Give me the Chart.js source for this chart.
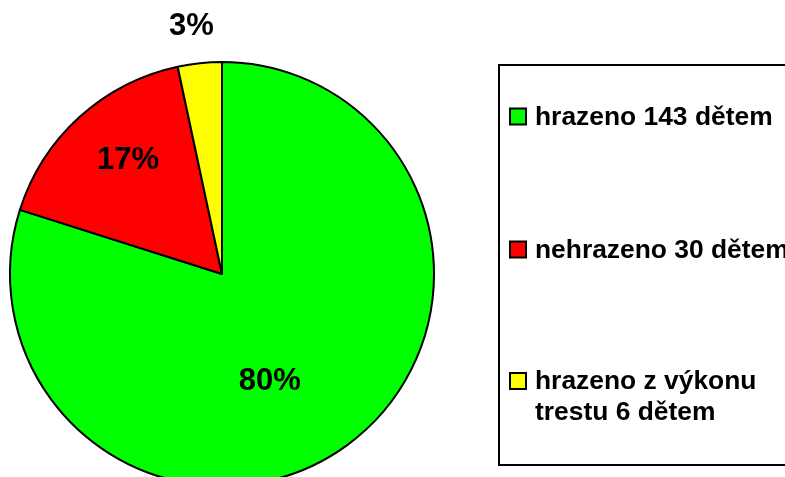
<!DOCTYPE html>
<html>
<head>
<meta charset="utf-8">
<script src="https://cdn.jsdelivr.net/npm/chart.js@4"></script>
<style>
  html, body { margin: 0; padding: 0; background: #fff; overflow: hidden; }
  #wrap { width: 785px; height: 500px; }
</style>
</head>
<body>
<div id="wrap"><canvas id="pieChart" width="785" height="500"></canvas></div>
<script>
// data
const labels = ["hrazeno 143 dětem", "nehrazeno 30 dětem", ["hrazeno z výkonu", "trestu 6 dětem"]];
const counts = [143, 30, 6];
const colors = ["#00FF00", "#FF0000", "#FFFF00"];

// where each percentage sits: radius as a part of the pie radius, and a small turn in degrees
const labelSpots = [
    { r: 0.551, turn: 12 },
    { r: 0.70, turn: 3 },
    { r: 1.179, turn: -1 }
];

const percentLabels = {
    id: 'percentLabels',
    afterDatasetsDraw(chart) {
        const ctx = chart.ctx;
        const meta = chart.getDatasetMeta(0);
        const data = chart.data.datasets[0].data;
        const total = data.reduce((a, b) => a + b, 0);
        ctx.save();
        ctx.font = 'bold 31px "Liberation Sans", Arial, sans-serif';
        ctx.fillStyle = '#000';
        ctx.textAlign = 'center';
        ctx.textBaseline = 'middle';
        meta.data.forEach((arc, i) => {
            const p = arc.getProps(['x', 'y', 'startAngle', 'endAngle', 'outerRadius'], true);
            const spot = labelSpots[i];
            const a = (p.startAngle + p.endAngle) / 2 + spot.turn * Math.PI / 180;
            const d = p.outerRadius * spot.r;
            const text = Math.round(data[i] / total * 100) + '%';
            ctx.fillText(text, p.x + Math.cos(a) * d, p.y + Math.sin(a) * d + 1);
        });
        ctx.restore();
    }
};

const boxLegend = {
    id: 'boxLegend',
    afterDraw(chart) {
        const ctx = chart.ctx;
        const ds = chart.data.datasets[0];
        const rows = [116.5, 249.5, 381];
        ctx.save();
        ctx.lineWidth = 2;
        ctx.strokeStyle = '#000';
        ctx.strokeRect(499, 65, 320, 400);
        ctx.font = 'bold 26.4px "Liberation Sans", Arial, sans-serif';
        ctx.textBaseline = 'middle';
        ctx.textAlign = 'left';
        chart.data.labels.forEach((lab, i) => {
            const y = rows[i];
            ctx.fillStyle = ds.backgroundColor[i];
            ctx.fillRect(510, y - 8, 16, 16);
            ctx.strokeRect(510, y - 8, 16, 16);
            ctx.fillStyle = '#000';
            const lines = Array.isArray(lab) ? lab : [lab];
            lines.forEach((line, j) => {
                ctx.fillText(line, 535, y + 1 + j * 31);
            });
        });
        ctx.restore();
    }
};

new Chart(document.getElementById('pieChart'), {
    type: 'pie',
    data: {
        labels: labels,
        datasets: [{
            data: counts,
            backgroundColor: colors,
            borderColor: '#000',
            borderWidth: 2
        }]
    },
    options: {
        responsive: false,
        animation: false,
        layout: { padding: { left: 9, right: 350, top: 61, bottom: 13 } },
        plugins: {
            legend: { display: false },
            tooltip: { enabled: false }
        }
    },
    plugins: [percentLabels, boxLegend]
});
</script>
</body>
</html>
